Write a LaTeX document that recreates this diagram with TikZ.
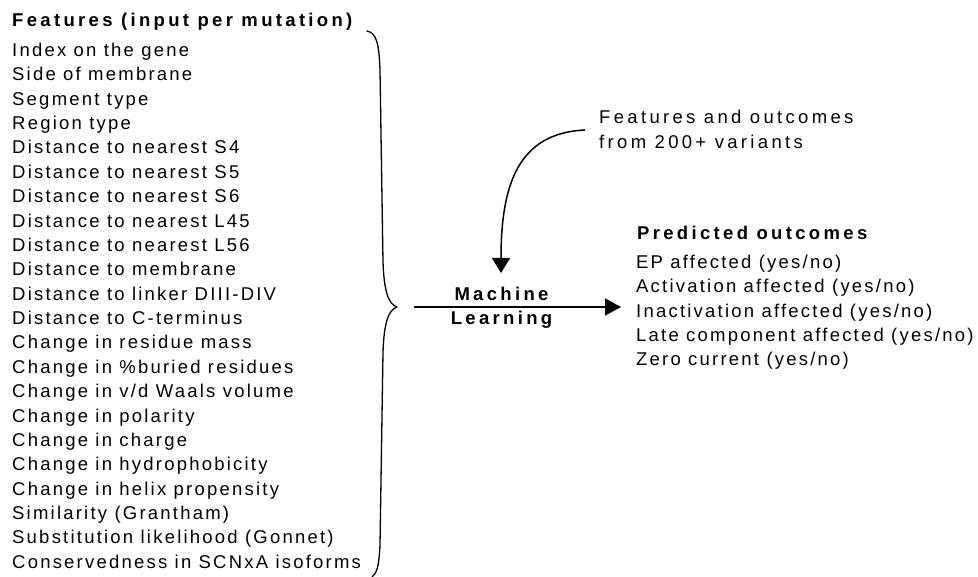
\documentclass[tikz,border=0pt]{standalone}
\usepackage{fontspec}
\setmainfont{Liberation Sans}[LetterSpace=12]
\usetikzlibrary{arrows.meta}
\begin{document}
\begin{tikzpicture}[x=1pt,y=1pt,
  txt/.style={anchor=base west,inner sep=0pt,font=\fontsize{18.5}{22}\selectfont},
  widetxt/.style={txt,font=\fontsize{18.5}{22}\selectfont\addfontfeatures{LetterSpace=18}},
  hdr/.style={anchor=base west,inner sep=0pt,font=\fontsize{18.5}{22}\selectfont\bfseries\addfontfeatures{LetterSpace=18}},
  mltxt/.style={anchor=base,inner sep=0pt,font=\fontsize{18.5}{22}\selectfont\bfseries\addfontfeatures{LetterSpace=18}},
  arr/.style={line width=1.5pt,-{Triangle[length=16pt,width=17pt]}},
  bracepath/.style={line width=1.3pt,line cap=round,line join=round}]
\useasboundingbox (0,0) rectangle (978,-577);

% input features
\node[hdr] (fhead) at (12,-26.7) {Features (input per mutation)};
\foreach \t [count=\i from 0] in {
  Index on the gene,
  Side of membrane,
  Segment type,
  Region type,
  Distance to nearest S4,
  Distance to nearest S5,
  Distance to nearest S6,
  Distance to nearest L45,
  Distance to nearest L56,
  Distance to membrane,
  Distance to linker DIII-DIV,
  Distance to C-terminus,
  Change in residue mass,
  Change in \%buried residues,
  Change in v/d Waals volume,
  Change in polarity,
  Change in charge,
  Change in hydrophobicity,
  Change in helix propensity,
  Similarity (Grantham),
  Substitution likelihood (Gonnet),
  Conservedness in SCNxA isoforms}
  \node[txt] (f\i) at (12,{-56.5-24.37*\i}) {\t};

% brace gathering all features
\draw[bracepath] (367,-31) .. controls (377,-33) and (379,-45) .. (380,-70)
  -- (383,-262) .. controls (384,-290) and (388,-304) .. (397,-307)
  .. controls (388,-310) and (384,-324) .. (383,-352)
  -- (380,-545) .. controls (379,-566) and (377,-573) .. (372,-577);

% training data
\node[widetxt] (src1) at (599,-123.3) {Features and outcomes};
\node[widetxt] (src2) at (599,-149) {from 200+ variants};

% learner
\node[mltxt] (ml1) at (501.5,-300.5) {Machine};
\node[mltxt] (ml2) at (501.5,-325) {Learning};

% predicted outcomes
\node[hdr] (ohead) at (637,-239.3) {Predicted outcomes};
\foreach \t [count=\i from 0] in {
  EP affected (yes/no),
  Activation affected (yes/no),
  Inactivation affected (yes/no),
  Late component affected (yes/no),
  Zero current (yes/no)}
  \node[txt] (o\i) at (636,{-268.3-24.4*\i}) {\t};

% connectors
\coordinate (srcin) at (585,-130);
\coordinate (mlin) at (501,-273);
\coordinate (hs) at (414,-307);
\coordinate (he) at (621,-307);
\draw[arr,-{Triangle[length=15pt,width=18pt]}] (srcin) .. controls (518,-133) and (501,-185) .. (mlin);
\draw[arr] (hs) -- (he);
\end{tikzpicture}
\end{document}
